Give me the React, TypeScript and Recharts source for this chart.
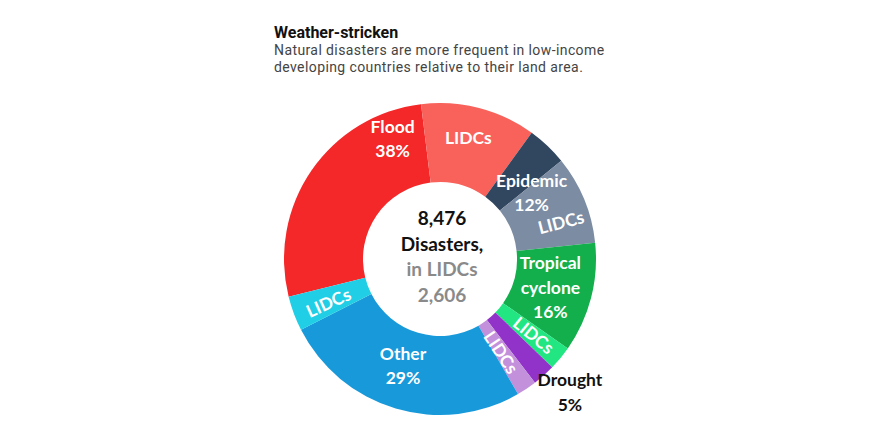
import { PieChart, Pie, Cell } from 'recharts';

// slices clockwise, each category split into "rest of world" then LIDCs
const sliceNames = [
  'Flood', 'Flood LIDCs',
  'Epidemic', 'Epidemic LIDCs',
  'Tropical cyclone', 'Tropical cyclone LIDCs',
  'Drought', 'Drought LIDCs',
  'Other', 'Other LIDCs',
];
const sliceValues = [2284, 1012, 353, 777, 965, 212, 200, 177, 2189, 306];
const sliceColors = [
  '#F42828', '#F8625B',
  '#31465F', '#7C8CA3',
  '#12AF4C', '#22E681',
  '#9133C8', '#C390DC',
  '#1899DA', '#20CEE5',
];
const sliceLabels = [
  ['Flood', '38%'], ['LIDCs'],
  ['Epidemic', '12%'], ['LIDCs'],
  ['Tropical', 'cyclone', '16%'], ['LIDCs'],
  ['Drought', '5%'], ['LIDCs'],
  ['Other', '29%'], ['LIDCs'],
];
const centerLines = ['8,476', 'Disasters,', 'in LIDCs', '2,606'];

// label placement: shift (deg, clockwise) from slice middle, radius px, rotate along radius, outside
const labelLayout = [
  { shift: 35, r: 124 },
  { shift: 1, r: 121 },
  { shift: 13.5, r: 114 },
  { shift: 8, r: 129, rotate: true },
  { shift: 1.5, r: 119 },
  { shift: 0, r: 127, rotate: true },
  { shift: -2.5, r: 192, outside: true },
  { shift: 0, r: 118, rotate: true },
  { shift: 0, r: 116 },
  { shift: -3.5, r: 118, rotate: true },
];

const data = sliceNames.map((name, i) => ({ name, value: sliceValues[i] }));

const FONT = 'Lato, "Open Sans", sans-serif';

const CenterText = ({ cx, cy }: { cx: number; cy: number }) => (
  <text textAnchor="middle" dominantBaseline="central" fontFamily={FONT} fontWeight={700} fontSize={19}>
    {centerLines.map((t, k) => (
      <tspan key={k} x={cx + 2} y={cy - 42 + k * 25.7} fill={k < 2 ? '#111' : '#8a8a8a'}>
        {t}
      </tspan>
    ))}
  </text>
);

const renderLabel = (props: any) => {
  const { cx, cy, midAngle, index } = props;
  const layout = labelLayout[index];
  const lines = sliceLabels[index];
  const theta = 90 - midAngle + layout.shift; // clockwise from top
  const t = ((theta % 360) + 360) % 360;
  const rad = (t * Math.PI) / 180;
  const x = cx + layout.r * Math.sin(rad) - 4;
  const y = cy - layout.r * Math.cos(rad) - 5;
  const rot = layout.rotate ? (t < 180 ? t - 90 : t - 270) : 0;
  const lh = 24.5;
  const top = y - ((lines.length - 1) * lh) / 2;
  return (
    <g>
      <text
        x={x}
        y={top}
        textAnchor="middle"
        dominantBaseline="central"
        fill={layout.outside ? '#111' : '#fff'}
        fontFamily={FONT}
        fontWeight={700}
        fontSize={17.5}
        transform={rot ? `rotate(${rot} ${x} ${y})` : undefined}
      >
        {lines.map((ln, k) => (
          <tspan key={k} x={x} y={top + k * lh}>
            {ln}
          </tspan>
        ))}
      </text>
      {index === 0 && <CenterText cx={cx} cy={cy} />}
    </g>
  );
};

export default function App() {
  return (
    <div style={{ position: 'absolute', left: 0, top: 0, width: 880, height: 440, background: '#fff' }}>
      <div
        style={{
          position: 'absolute',
          left: 274,
          top: 23,
          fontFamily: 'Roboto, sans-serif',
          color: '#444',
          fontSize: 14,
          lineHeight: '16.5px',
          letterSpacing: 0.4,
          whiteSpace: 'nowrap',
        }}
      >
        <div style={{ fontWeight: 700, fontSize: 16, color: '#111', lineHeight: '19px', letterSpacing: 0 }}>
          Weather-stricken
        </div>
        <div>Natural disasters are more frequent in low-income</div>
        <div>developing countries relative to their land area.</div>
      </div>
      <div style={{ position: 'absolute', left: 0, top: 0 }}>
        <PieChart width={880} height={440}>
          <Pie
            data={data}
            dataKey="value"
            nameKey="name"
            cx={435}
            cy={254}
            innerRadius={77}
            outerRadius={156}
            startAngle={-166}
            endAngle={-526}
            stroke="none"
            label={renderLabel}
            labelLine={false}
            isAnimationActive={false}
          >
            {data.map((d, i) => (
              <Cell key={d.name} fill={sliceColors[i]} />
            ))}
          </Pie>
        </PieChart>
      </div>
    </div>
  );
}
